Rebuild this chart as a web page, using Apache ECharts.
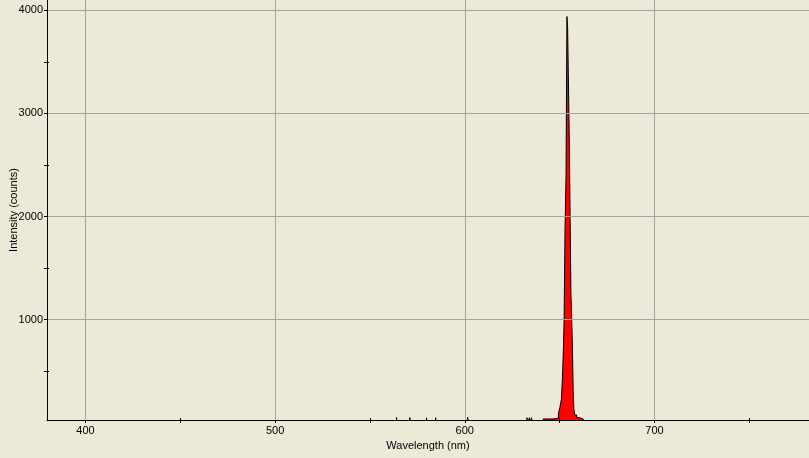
<!DOCTYPE html>
<html>
<head>
<meta charset="utf-8">
<script src="https://cdn.jsdelivr.net/npm/echarts@6.0.0/dist/echarts.min.js"></script>
<style>
  html, body { margin: 0; padding: 0; background: #ece9d8; }
  #main { width: 809px; height: 458px; }
</style>
</head>
<body>
<div id="main"></div>
<script>
// spectrum: bin start wavelength (nm) and counts
var wavelengths = [380, 564.0, 564.3, 571.0, 571.3, 579.8, 580.1, 584.6, 584.9, 601.5, 601.8,
  632.8, 633.1, 634.1, 634.4, 635.2, 635.5, 641.3, 646.5, 649.37, 650.16, 650.95, 651.48,
  652.0, 652.4, 652.85, 653.4, 653.85, 654.22, 654.6, 655.1, 655.55, 655.95, 656.35,
  656.8, 657.15, 657.5, 657.91, 658.97, 660.34, 662.45, 781.5];
var counts = [0, 51, 0, 51, 0, 49, 0, 50, 0, 53, 0,
  49, 0, 49, 0, 49, 0, 37, 45, 90, 150, 230, 430,
  720, 1030, 1870, 2420, 3940, 3840, 3370, 2740, 1985, 1260, 1030,
  690, 300, 140, 76, 50, 37, 0, 0];

var xMajor = [400, 500, 600, 700];
var xMinor = [450, 550, 650, 750];
var yMajor = [1000, 2000, 3000, 4000];
var yMinor = [500, 1500, 2500, 3500];

var xMin = 379.7, xMax = 781.5;
var yMin = 27, yMax = 4100;

var points = wavelengths.map(function (w, i) { return [w, counts[i]]; });

var font = { color: '#000', fontSize: 11, fontFamily: 'Liberation Sans' };
var plain = function (v) { return String(v); };

var gridLines = [];
xMajor.forEach(function (v) { gridLines.push({ xAxis: v }); });
yMajor.forEach(function (v) { gridLines.push({ yAxis: v }); });

var chart = echarts.init(document.getElementById('main'));
chart.setOption({
  animation: false,
  backgroundColor: '#ece9d8',
  grid: { left: 47, right: 0, top: 0, bottom: 38, containLabel: false, outerBoundsMode: 'none' },
  xAxis: [{
    type: 'value', min: xMin, max: xMax, position: 'bottom', z: 5,
    name: 'Wavelength (nm)', nameLocation: 'middle', nameGap: 20, nameMoveOverlap: false,
    nameTextStyle: font,
    axisLine: { lineStyle: { color: '#000', width: 1 } },
    axisTick: { show: true, inside: false, length: 3, customValues: xMajor.concat(xMinor),
      lineStyle: { color: '#000' } },
    axisLabel: Object.assign({ customValues: xMajor, margin: 5, formatter: plain }, font),
    splitLine: { show: false }
  }, {
    type: 'value', min: xMin, max: xMax, position: 'bottom', z: 5,
    axisLine: { show: false },
    axisTick: { show: true, inside: true, length: 2, customValues: xMinor,
      lineStyle: { color: '#000' } },
    axisLabel: { show: false },
    splitLine: { show: false }
  }],
  yAxis: [{
    type: 'value', min: yMin, max: yMax, position: 'left', z: 5,
    name: 'Intensity (counts)', nameLocation: 'middle', nameGap: 28, nameMoveOverlap: false,
    nameTextStyle: font,
    axisLine: { show: true, lineStyle: { color: '#000', width: 1 } },
    axisTick: { show: true, inside: false, length: 3, customValues: yMajor.concat(yMinor),
      lineStyle: { color: '#000' } },
    axisLabel: Object.assign({ customValues: yMajor, margin: 4, formatter: plain }, font),
    splitLine: { show: false }
  }, {
    type: 'value', min: yMin, max: yMax, position: 'left', z: 5,
    axisLine: { show: false },
    axisTick: { show: true, inside: true, length: 2, customValues: yMinor,
      lineStyle: { color: '#000' } },
    axisLabel: { show: false },
    splitLine: { show: false }
  }],
  series: [{
    type: 'line', data: [], z: 1, silent: true,
    markLine: {
      silent: true, symbol: 'none', animation: false,
      label: { show: false },
      lineStyle: { color: '#a3a3a3', type: 'solid', width: 1 },
      data: gridLines
    }
  }, {
    type: 'line', z: 3, step: 'end', showSymbol: false, silent: true, clip: true,
    data: points,
    lineStyle: { color: '#000', width: 1 },
    areaStyle: { color: '#ff0000', opacity: 1, origin: 'start' }
  }]
});
</script>
</body>
</html>
